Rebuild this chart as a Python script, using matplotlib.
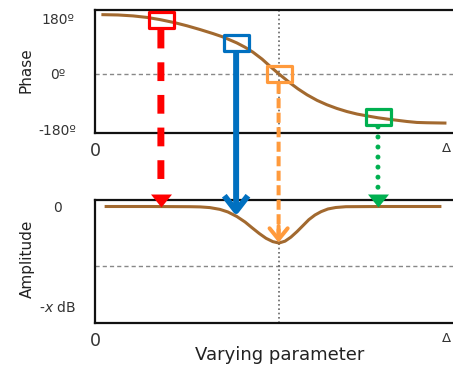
import matplotlib
matplotlib.use('Agg')
import matplotlib.pyplot as plt
from matplotlib.patches import ConnectionPatch
from matplotlib.path import Path

# ---------------- data ----------------
phase_x = [0.022, 0.064, 0.106, 0.145, 0.181, 0.222, 0.256, 0.292, 0.328, 0.356,
           0.394, 0.417, 0.439, 0.464, 0.486, 0.511, 0.542, 0.564, 0.589, 0.617,
           0.644, 0.672, 0.700, 0.728, 0.756, 0.786, 0.811, 0.839, 0.867, 0.894,
           0.922, 0.972]
phase_deg = [191, 190, 187, 182, 175, 165, 155, 143, 130, 119,
             100, 86, 70, 48, 25, 0, -29, -48, -67, -85,
             -99, -111, -121, -129, -135, -141, -145, -149, -153, -156,
             -157, -158]

amp_x = [0.031, 0.153, 0.264, 0.292, 0.319, 0.347, 0.369, 0.394, 0.417, 0.436,
         0.456, 0.475, 0.494, 0.511, 0.528, 0.544, 0.561, 0.578, 0.594, 0.611,
         0.628, 0.647, 0.669, 0.697, 0.792, 0.958]
amp_val = [0.005, 0.005, 0.003, 0.001, -0.006, -0.024, -0.050, -0.096, -0.152, -0.209,
           -0.267, -0.316, -0.350, -0.364, -0.345, -0.305, -0.249, -0.187, -0.128, -0.081,
           -0.047, -0.020, -0.005, 0.003, 0.005, 0.005]

marker_x = [0.183, 0.392, 0.510, 0.786]
marker_phase = [174, 100, 0, -139]
marker_amp = [0.0, -0.09, -0.36, 0.0]

resonance_x = 0.511
phase_ref = 0
amp_ref = -0.6

phase_ticks = [180, 0, -180]
phase_ticklabels = ['180º', '0º', '-180º']
amp_ticks = [0, -1]
amp_ticklabels = ['0', '-$x$ dB']
x_ticks = [0, 0.975]
x_ticklabels = ['0', 'Δ']

# ---------------- styles ----------------
BROWN = '#A2692F'
RED = '#FF0000'
BLUE = '#0070C0'
ORANGE = '#FF9A3C'
GREEN = '#00B050'
marker_colors = [RED, BLUE, ORANGE, GREEN]

W, H = 453, 370
fig = plt.figure(figsize=(W / 100, H / 100), dpi=100)

def axpos(left, top, right, bottom):
    return [left / W, (H - bottom) / H, (right - left) / W, (bottom - top) / H]

ax1 = fig.add_axes(axpos(95, 10, 455, 133))
ax2 = fig.add_axes(axpos(95, 200, 455, 323))

for ax in (ax1, ax2):
    ax.set_xlim(0, 1)
    for s in ('top', 'left', 'bottom'):
        ax.spines[s].set_linewidth(1.6)
        ax.spines[s].set_color('#111111')
    ax.spines['right'].set_visible(False)
    ax.tick_params(length=0, labelcolor='#333333')
    ax.set_xticks(x_ticks)
    ax.set_xticklabels(x_ticklabels, fontsize=12.5)
    ax.get_xticklabels()[1].set_fontsize(9.5)
    ax.tick_params(axis='x', pad=6.5)
    ax.tick_params(axis='y', pad=27)

# ---- phase panel ----
ax1.set_ylim(-190, 206)
ax1.set_yticks(phase_ticks)
ax1.set_yticklabels(phase_ticklabels, fontsize=10, ha='center')
ax1.axhline(phase_ref, color='#888888', lw=1.0, ls=(0, (3, 2.2)), zorder=1)
ax1.axvline(resonance_x, color='#666666', lw=1.2, ls=(0, (1, 1.6)), zorder=1)
ax1.plot(phase_x, phase_deg, color=BROWN, lw=2.2, zorder=3, solid_joinstyle='round')
ax1.set_ylabel('Phase', fontsize=11, color='#222222')
ax1.yaxis.label.set_va('center')
ax1.yaxis.set_label_coords((26 - 95) / 360, (133 - 70) / 123)

box = Path([(-12.5, -8), (12.5, -8), (12.5, 8), (-12.5, 8), (-12.5, -8)], closed=True)
for mx, mp, c in zip(marker_x, marker_phase, marker_colors):
    ax1.plot([mx], [mp], marker=box, ms=18, mfc='none', mec=c, mew=2.3,
             ls='none', clip_on=False, zorder=6)

# ---- amplitude panel ----
ax2.set_ylim(-1.172, 0.0707)
ax2.set_yticks(amp_ticks)
ax2.set_yticklabels(amp_ticklabels, fontsize=10, ha='center')
ax2.axhline(amp_ref, color='#888888', lw=1.0, ls=(0, (3, 2.2)), zorder=1)
ax2.vlines(resonance_x, -1.172, min(amp_val), color='#666666', lw=1.2,
           ls=(0, (1, 1.6)), zorder=1)
ax2.plot(amp_x, amp_val, color=BROWN, lw=2.2, zorder=3, solid_joinstyle='round')
ax2.set_ylabel('Amplitude', fontsize=11, color='#222222')
ax2.yaxis.label.set_va('center')
ax2.yaxis.set_label_coords((27 - 95) / 360, (323 - 259) / 123)
ax2.set_xlabel('Varying parameter', fontsize=13, color='#222222')
ax2.xaxis.label.set_va('center')
ax2.xaxis.set_label_coords((280 - 95) / 360, (323 - 355.5) / 123)

# ---- arrows ----
def shaft(i, **kw):
    con = ConnectionPatch(xyA=(marker_x[i], marker_phase[i]), coordsA=ax1.transData,
                          xyB=(marker_x[i], marker_amp[i]), coordsB=ax2.transData,
                          clip_on=False, **kw)
    con.set_zorder(4)
    fig.add_artist(con)
    return con

tri = Path([(0, 0), (-10.5, 13), (10.5, 13), (0, 0)], closed=True)

# red: dashed shaft, filled head
shaft(0, arrowstyle='-', color=RED, lw=5, linestyle=(0, (2.7, 2.0)),
      capstyle='butt', shrinkA=7, shrinkB=11)
ax2.plot([marker_x[0]], [marker_amp[0]], marker=tri, ms=18.7, color=RED, mew=0,
         ls='none', clip_on=False, zorder=7)

# blue: solid shaft with open head
shaft(1, arrowstyle='->,head_length=11,head_width=8.5', mutation_scale=1,
      color=BLUE, lw=4.3, shrinkA=7, shrinkB=0, capstyle='butt')

# orange: dashed shaft with open head
shaft(2, arrowstyle='-', color=ORANGE, lw=2.9, linestyle=(0, (2.5, 1.1)),
      capstyle='butt', shrinkA=7, shrinkB=6)
ax2.annotate('', xy=(marker_x[2], marker_amp[2]), xytext=(0, 12),
             textcoords='offset points', annotation_clip=False,
             arrowprops=dict(arrowstyle='->,head_length=8,head_width=6.5',
                             mutation_scale=1, color=ORANGE, lw=2.9,
                             shrinkA=0, shrinkB=0))

# green: dotted shaft, filled head
shaft(3, arrowstyle='-', color=GREEN, lw=3.6, linestyle=(0, (0.01, 2.0)),
      capstyle='round', shrinkA=7, shrinkB=12)
ax2.plot([marker_x[3]], [marker_amp[3]], marker=tri, ms=18.7, color=GREEN, mew=0,
         ls='none', clip_on=False, zorder=7)

fig.savefig('out.png', dpi=100)
